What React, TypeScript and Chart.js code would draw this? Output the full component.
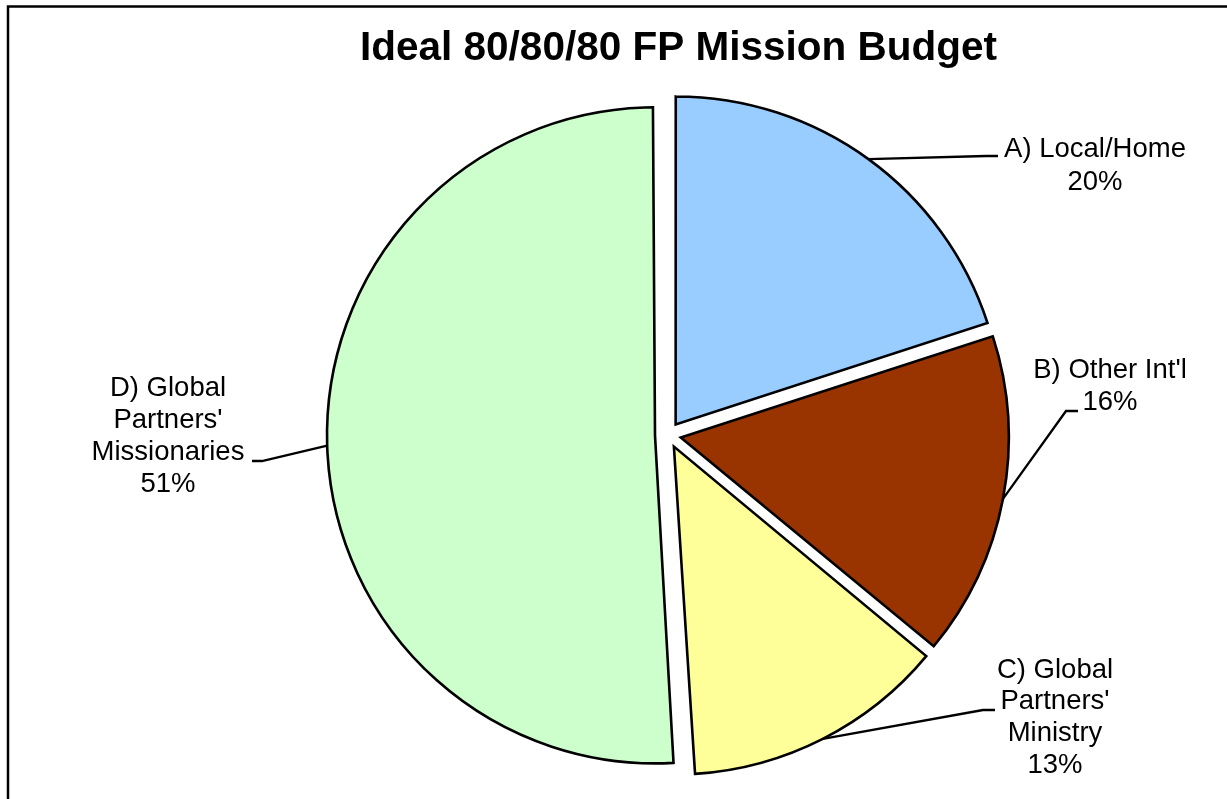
import React, { useEffect, useRef } from "react";
import { Chart, registerables } from "chart.js";

Chart.register(...registerables);

const TITLE = "Ideal 80/80/80 FP Mission Budget";
const categories = [
  ["A) Local/Home"],
  ["B) Other Int'l"],
  ["C) Global", "Partners'", "Ministry"],
  ["D) Global", "Partners'", "Missionaries"],
];
const values = [20, 16, 13, 51];
const colors = ["#99CCFF", "#993300", "#FFFF99", "#CCFFCC"];

// label layout: text center x, first line y, line height, leader elbow and end
const labelLayout = [
  { x: 1095, y: 149, lh: 33, elbow: [986, 156], end: [998, 156] },
  { x: 1110, y: 370, lh: 32, elbow: [1066, 411], end: [1078, 411] },
  { x: 1055, y: 670, lh: 31.7, elbow: [983, 710], end: [995, 710] },
  { x: 168, y: 388, lh: 32.3, elbow: [262, 461], end: [252, 461] },
];

const FONT = '"Liberation Sans", Arial, sans-serif';
const RADIUS = 328;
const EXPLODE = 13; // pixel shift of each slice

const radiusFix = {
  id: "radiusFix",
  beforeDatasetsDraw(chart: any) {
    const meta = chart.getDatasetMeta(0);
    meta.data.forEach((arc: any) => {
      const circ = arc.endAngle - arc.startAngle;
      const fix = 1 - Math.sin(Math.min(Math.PI, circ));
      arc.outerRadius = RADIUS - EXPLODE * fix;
    });
  },
};

const decorPlugin = {
  id: "decor",
  afterDraw(chart: any) {
    const ctx = chart.ctx;
    ctx.save();
    // frame
    ctx.strokeStyle = "#000";
    ctx.lineWidth = 2.5;
    ctx.strokeRect(8, 6.5, 1400, 1000);
    // title
    ctx.fillStyle = "#000";
    ctx.font = `bold 40.5px ${FONT}`;
    ctx.textAlign = "center";
    ctx.textBaseline = "alphabetic";
    ctx.fillText(TITLE, 678.5, 60);

    const meta = chart.getDatasetMeta(0);
    const total = values.reduce((a, b) => a + b, 0);
    meta.data.forEach((arc: any, i: number) => {
      const p = arc.getProps(["x", "y", "startAngle", "endAngle"], true);
      const mid = (p.startAngle + p.endAngle) / 2;
      const cx = p.x + Math.cos(mid) * EXPLODE;
      const cy = p.y + Math.sin(mid) * EXPLODE;
      const sx = cx + Math.cos(mid) * RADIUS;
      const sy = cy + Math.sin(mid) * RADIUS;
      const L = labelLayout[i];
      ctx.beginPath();
      ctx.strokeStyle = "#000";
      ctx.lineWidth = 2.3;
      ctx.lineJoin = "miter";
      ctx.moveTo(sx, sy);
      ctx.lineTo(L.elbow[0], L.elbow[1]);
      ctx.lineTo(L.end[0], L.end[1]);
      ctx.stroke();

      ctx.font = `27.5px ${FONT}`;
      ctx.textAlign = "center";
      ctx.textBaseline = "middle";
      const lines = [...categories[i], `${Math.round((values[i] / total) * 100)}%`];
      lines.forEach((t, k) => {
        ctx.fillText(t, L.x, L.y + k * L.lh);
      });
    });
    ctx.restore();
  },
};

export default function App() {
  const ref = useRef<HTMLCanvasElement>(null);
  useEffect(() => {
    if (!ref.current) return;
    const chart = new Chart(ref.current, {
      type: "pie",
      data: {
        labels: categories.map((c) => c.join(" ")),
        datasets: [
          {
            data: values,
            backgroundColor: colors,
            borderColor: "#000",
            borderWidth: 2.6,
            borderJoinStyle: "miter",
            offset: EXPLODE * 4,
            hoverOffset: 0,
          } as any,
        ],
      },
      options: {
        animation: false,
        responsive: false,
        radius: RADIUS,
        layout: { padding: { left: 308, right: 199, top: 75, bottom: 4 } },
        plugins: {
          legend: { display: false },
          tooltip: { enabled: false },
          title: { display: false },
        },
        events: [],
      } as any,
      plugins: [radiusFix, decorPlugin],
    });
    return () => chart.destroy();
  }, []);
  return (
    <div style={{ position: "fixed", left: 0, top: 0, width: 1227, height: 799, background: "#fff" }}>
      <canvas ref={ref} width={1227} height={799} style={{ width: 1227, height: 799, display: "block" }} />
    </div>
  );
}
